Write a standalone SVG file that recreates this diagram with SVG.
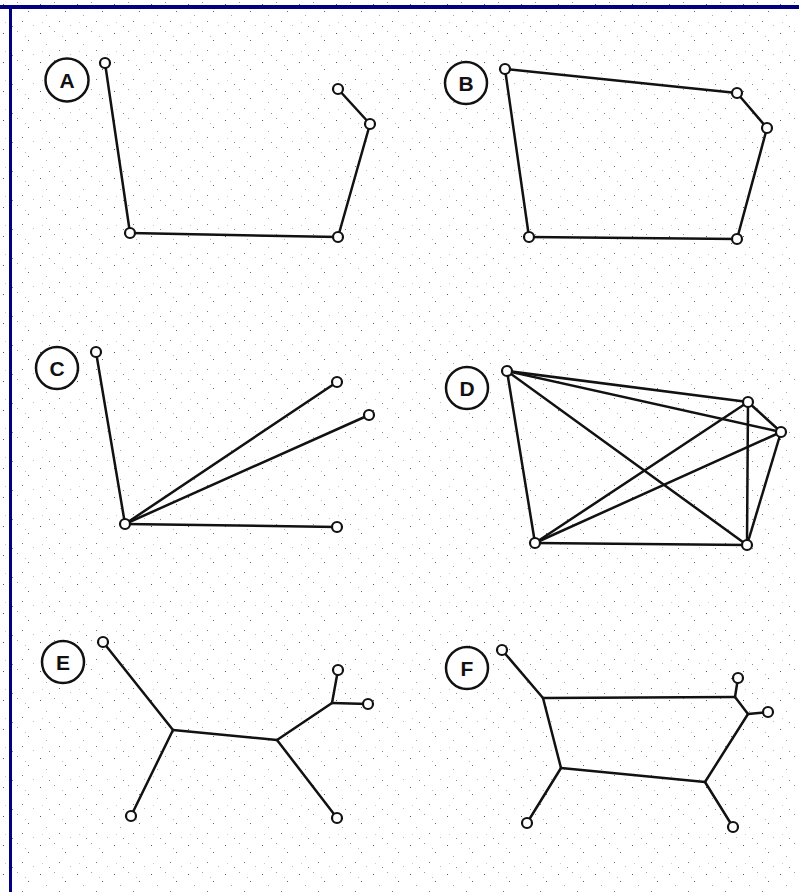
<svg xmlns="http://www.w3.org/2000/svg" width="799" height="892" viewBox="0 0 799 892">
<defs>
<pattern id="noise" x="0" y="0" width="37" height="29" patternUnits="userSpaceOnUse">
<rect x="3" y="4" width="1" height="1" fill="#555"/>
<rect x="17" y="2" width="1" height="1" fill="#999"/>
<rect x="28" y="11" width="1" height="1" fill="#666"/>
<rect x="9" y="15" width="1" height="1" fill="#aaa"/>
<rect x="22" y="21" width="1" height="1" fill="#777"/>
<rect x="33" y="25" width="1" height="1" fill="#bbb"/>
<rect x="12" y="26" width="1" height="1" fill="#888"/>
<rect x="5" y="22" width="1" height="1" fill="#ccc"/>
<rect x="25" y="7" width="1" height="1" fill="#bbb"/>
</pattern>
<style>
.e{stroke:#111;stroke-width:2.5;fill:none;stroke-linecap:round}
.n{fill:#fff;stroke:#111;stroke-width:2.2}
.lc{fill:#fff;stroke:#111;stroke-width:2.5}
.lt{font-family:"Liberation Sans",Arial,sans-serif;font-size:21px;font-weight:bold;fill:#111;text-anchor:middle}
</style>
</defs>
<rect width="799" height="892" fill="#fff"/>
<rect width="799" height="892" fill="url(#noise)"/>
<rect x="0" y="5" width="799" height="4" fill="#000080"/>
<rect x="9" y="5" width="3" height="887" fill="#000080"/>

<g id="connectors">
<!-- A -->
<line class="e" x1="105" y1="63" x2="130" y2="233"/>
<line class="e" x1="130" y1="233" x2="338" y2="237"/>
<line class="e" x1="338" y1="237" x2="370" y2="124"/>
<line class="e" x1="370" y1="124" x2="338" y2="89"/>
<!-- B -->
<line class="e" x1="505" y1="69" x2="737" y2="93"/>
<line class="e" x1="737" y1="93" x2="767" y2="128"/>
<line class="e" x1="767" y1="128" x2="737" y2="239"/>
<line class="e" x1="737" y1="239" x2="529" y2="237"/>
<line class="e" x1="529" y1="237" x2="505" y2="69"/>
<!-- C -->
<line class="e" x1="125" y1="524" x2="96" y2="352"/>
<line class="e" x1="125" y1="524" x2="337" y2="382"/>
<line class="e" x1="125" y1="524" x2="369" y2="415"/>
<line class="e" x1="125" y1="524" x2="337" y2="527"/>
<!-- D -->
<line class="e" x1="507" y1="371" x2="748" y2="402"/>
<line class="e" x1="507" y1="371" x2="781" y2="432"/>
<line class="e" x1="507" y1="371" x2="747" y2="545"/>
<line class="e" x1="507" y1="371" x2="535" y2="543"/>
<line class="e" x1="535" y1="543" x2="748" y2="402"/>
<line class="e" x1="535" y1="543" x2="781" y2="432"/>
<line class="e" x1="535" y1="543" x2="747" y2="545"/>
<line class="e" x1="748" y1="402" x2="781" y2="432"/>
<line class="e" x1="748" y1="402" x2="747" y2="545"/>
<line class="e" x1="781" y1="432" x2="747" y2="545"/>
<!-- E -->
<line class="e" x1="103" y1="642" x2="173" y2="730"/>
<line class="e" x1="173" y1="730" x2="131" y2="816"/>
<line class="e" x1="173" y1="730" x2="277" y2="740"/>
<line class="e" x1="277" y1="740" x2="337" y2="818"/>
<line class="e" x1="277" y1="740" x2="332" y2="703"/>
<line class="e" x1="332" y1="703" x2="338" y2="670"/>
<line class="e" x1="332" y1="703" x2="368" y2="704"/>
<!-- F -->
<line class="e" x1="502" y1="650" x2="543" y2="698"/>
<line class="e" x1="543" y1="698" x2="735" y2="697"/>
<line class="e" x1="543" y1="698" x2="561" y2="768"/>
<line class="e" x1="561" y1="768" x2="527" y2="823"/>
<line class="e" x1="561" y1="768" x2="705" y2="782"/>
<line class="e" x1="705" y1="782" x2="733" y2="827"/>
<line class="e" x1="705" y1="782" x2="748" y2="714"/>
<line class="e" x1="748" y1="714" x2="768" y2="712"/>
<line class="e" x1="748" y1="714" x2="735" y2="697"/>
<line class="e" x1="735" y1="697" x2="738" y2="678"/>
</g>

<g id="label-A"><circle class="lc" cx="67" cy="80" r="21.5"/><text class="lt" x="67" y="88">A</text></g>
<g id="label-B"><circle class="lc" cx="466" cy="83" r="21"/><text class="lt" x="466" y="91">B</text></g>
<g id="label-C"><circle class="lc" cx="57" cy="368" r="21"/><text class="lt" x="57" y="376">C</text></g>
<g id="label-D"><circle class="lc" cx="467" cy="388" r="21"/><text class="lt" x="467" y="396">D</text></g>
<g id="label-E"><circle class="lc" cx="63" cy="662" r="21"/><text class="lt" x="63" y="670">E</text></g>
<g id="label-F"><circle class="lc" cx="467" cy="668" r="21"/><text class="lt" x="467" y="676">F</text></g>

<g id="nodes-A">
<circle class="n" cx="105" cy="63" r="5"/>
<circle class="n" cx="130" cy="233" r="5"/>
<circle class="n" cx="338" cy="237" r="5"/>
<circle class="n" cx="370" cy="124" r="5"/>
<circle class="n" cx="338" cy="89" r="5"/>
</g>
<g id="nodes-B">
<circle class="n" cx="505" cy="69" r="5"/>
<circle class="n" cx="737" cy="93" r="5"/>
<circle class="n" cx="767" cy="128" r="5"/>
<circle class="n" cx="737" cy="239" r="5"/>
<circle class="n" cx="529" cy="237" r="5"/>
</g>
<g id="nodes-C">
<circle class="n" cx="96" cy="352" r="5"/>
<circle class="n" cx="125" cy="524" r="5"/>
<circle class="n" cx="337" cy="382" r="5"/>
<circle class="n" cx="369" cy="415" r="5"/>
<circle class="n" cx="337" cy="527" r="5"/>
</g>
<g id="nodes-D">
<circle class="n" cx="507" cy="371" r="5"/>
<circle class="n" cx="748" cy="402" r="5"/>
<circle class="n" cx="781" cy="432" r="5"/>
<circle class="n" cx="747" cy="545" r="5"/>
<circle class="n" cx="535" cy="543" r="5"/>
</g>
<g id="nodes-E">
<circle class="n" cx="103" cy="642" r="5"/>
<circle class="n" cx="131" cy="816" r="5"/>
<circle class="n" cx="337" cy="818" r="5"/>
<circle class="n" cx="338" cy="670" r="5"/>
<circle class="n" cx="368" cy="704" r="5"/>
</g>
<g id="nodes-F">
<circle class="n" cx="502" cy="650" r="5"/>
<circle class="n" cx="527" cy="823" r="5"/>
<circle class="n" cx="733" cy="827" r="5"/>
<circle class="n" cx="768" cy="712" r="5"/>
<circle class="n" cx="738" cy="678" r="5"/>
</g>
</svg>
